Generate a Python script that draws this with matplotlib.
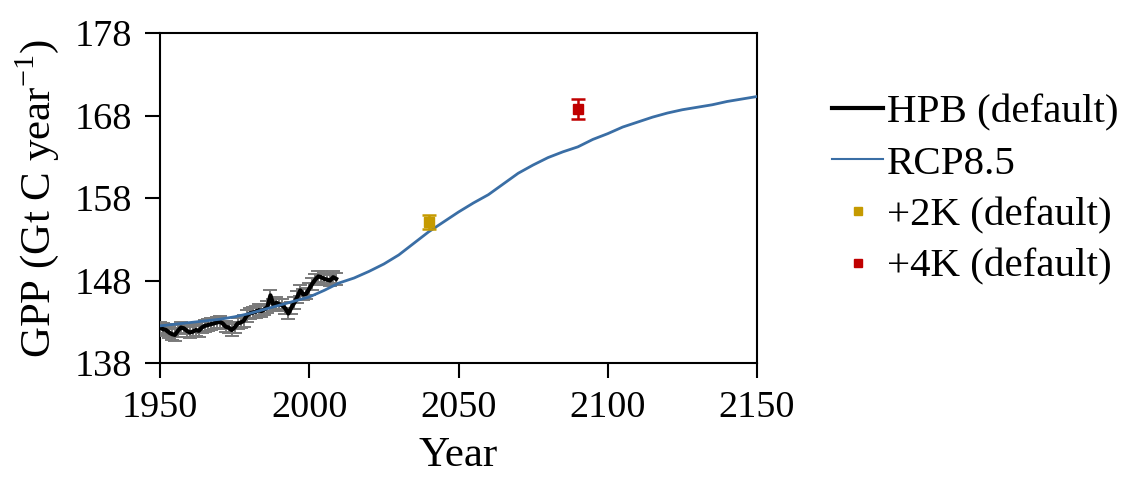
import matplotlib
matplotlib.use("Agg")
import matplotlib.pyplot as plt
from matplotlib.lines import Line2D

plt.rcParams['font.family'] = ['Liberation Serif', 'DejaVu Serif']
plt.rcParams['mathtext.fontset'] = 'custom'
plt.rcParams['mathtext.rm'] = 'Liberation Serif'

# RCP8.5 projection
rcp_years = [1950, 1955, 1960, 1965, 1970, 1975, 1980, 1985, 1990, 1995, 2000,
             2005, 2010, 2015, 2020, 2025, 2030, 2035, 2040, 2045, 2050, 2055,
             2060, 2065, 2070, 2075, 2080, 2085, 2090, 2095, 2100, 2105, 2110,
             2115, 2120, 2125, 2130, 2135, 2140, 2145, 2150]
rcp_gpp = [142.5, 142.7, 142.9, 143.1, 143.3, 143.6, 144.0, 144.5, 145.0, 145.5, 146.0,
           146.8, 147.7, 148.3, 149.1, 150.0, 151.1, 152.5, 153.9, 155.1, 156.3, 157.4,
           158.4, 159.7, 161.0, 162.0, 162.9, 163.6, 164.2, 165.1, 165.8, 166.6, 167.2,
           167.8, 168.3, 168.7, 169.0, 169.3, 169.7, 170.0, 170.3]

# HPB (default) historical
hpb_years = list(range(1950, 2010))
hpb_gpp = [142.3, 142.1, 142.0, 141.7, 141.5, 141.4, 141.9, 142.3, 142.2, 141.9,
           141.7, 141.8, 142.0, 141.9, 142.3, 142.5, 142.6, 142.7, 142.8, 142.9,
           143.0, 142.8, 142.4, 142.3, 142.0, 142.3, 142.8, 142.9, 143.1, 143.7,
           144.0, 144.1, 144.2, 144.4, 144.3, 144.5, 144.8, 146.2, 145.0, 145.3,
           145.1, 145.0, 144.6, 144.0, 144.7, 145.3, 146.0, 146.8, 146.3, 146.4,
           147.0, 147.6, 148.1, 148.5, 148.4, 148.2, 148.1, 148.0, 148.4, 148.2]
hpb_err = 0.7

# Warming scenarios
k2_year, k2_gpp, k2_err = 2040, 155.1, 0.9
k4_year, k4_gpp, k4_err = 2090, 168.8, 1.2

xticks = [1950, 2000, 2050, 2100, 2150]
yticks = [138, 148, 158, 168, 178]
labels = ['HPB (default)', 'RCP8.5', '+2K (default)', '+4K (default)']

fig = plt.figure(figsize=(11.21, 4.80), dpi=100)
ax = fig.add_axes([160 / 1121, 1 - 363 / 480, 597 / 1121, 330 / 480])

ax.errorbar(hpb_years, hpb_gpp, yerr=hpb_err, color='black', lw=3.0,
            ecolor='#7a7a7a', elinewidth=1.4, capsize=5, capthick=1.4,
            label=labels[0], zorder=3)
ax.plot(rcp_years, rcp_gpp, color='#3A6EA5', lw=2.0, label=labels[1], zorder=4)
ax.errorbar([k2_year], [k2_gpp], yerr=k2_err, fmt='s', color='#C59A00', ms=7,
            elinewidth=1.8, capsize=5, capthick=1.8, label=labels[2], zorder=5)
ax.errorbar([k4_year], [k4_gpp], yerr=k4_err, fmt='s', color='#C00000', ms=7,
            elinewidth=1.8, capsize=5, capthick=1.8, label=labels[3], zorder=5)

ax.set_xlim(1950, 2150)
ax.set_ylim(138, 178)
ax.set_xticks(xticks)
ax.set_yticks(yticks)
ax.tick_params(direction='out', length=11, width=1.5, labelsize=27.5, pad=9)
for s in ax.spines.values():
    s.set_linewidth(1.5)

ax.set_xlabel('Year', fontsize=31, labelpad=8)
ax.set_ylabel('GPP (Gt C year$^{-1}$)', fontsize=31, labelpad=10)

handles = [
    Line2D([], [], color='black', lw=3),
    Line2D([], [], color='#3A6EA5', lw=1.5),
    Line2D([], [], color='#C59A00', marker='s', ls='none', ms=6),
    Line2D([], [], color='#C00000', marker='s', ls='none', ms=6),
]
fig.legend(handles, labels, loc='center left', bbox_to_anchor=(832 / 1121, 0.605),
           frameon=False, fontsize=29.5, handlelength=1.25, handletextpad=0.1,
           labelspacing=0.34, borderaxespad=0, borderpad=0)

fig.savefig('out.png', dpi=100)
